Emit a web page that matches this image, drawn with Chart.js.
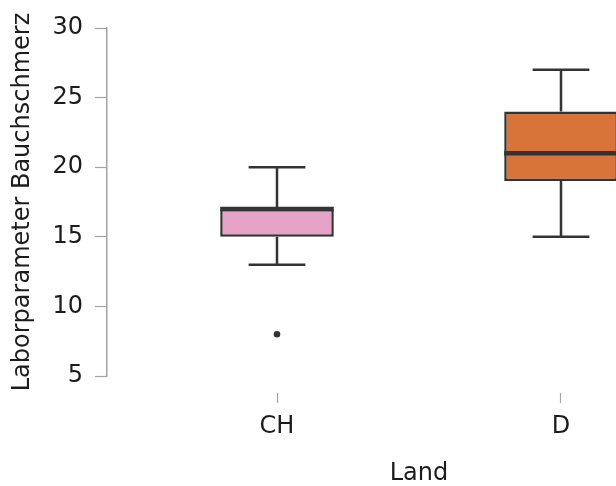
<!DOCTYPE html>
<html>
<head>
<meta charset="utf-8">
<script src="https://cdn.jsdelivr.net/npm/chart.js@4/dist/chart.umd.min.js"></script>
<style>
  html, body { margin: 0; padding: 0; background: #ffffff; overflow: hidden; }
  #wrap { width: 616px; height: 486px; overflow: hidden; position: relative; }
  #c { position: absolute; left: 0; top: 0; }
</style>
</head>
<body>
<div id="wrap"><canvas id="c" width="735" height="486"></canvas></div>
<script>
// ---- data ----
const categories   = ['CH', 'D'];
const lowerWhisker = [13, 15];
const q1           = [15, 19];
const median       = [17, 21];
const q3           = [17, 24];
const upperWhisker = [20, 27];
const outliers     = [[8], []];
const yTickValues  = [5, 10, 15, 20, 25, 30];
const xTitle = 'Land';
const yTitle = 'Laborparameter Bauchschmerz';

// ---- styles ----
const boxColors = ['#E7A3C7', '#D8733A'];
const lineColor = '#333333';
const axisColor = '#a3a3a3';
const textColor = '#1c1c1c';
const fontFamily = "'DejaVu Sans', 'Liberation Sans', sans-serif";
const fontSize = 24;

const catPos = categories.map((c, i) => i + 1);

const boxData = categories.map((c, i) => ({ x: catPos[i], y: [q1[i], q3[i]] }));
const outlierData = [];
categories.forEach((c, i) => outliers[i].forEach(v => outlierData.push({ x: catPos[i], y: v })));

const boxDecor = {
  id: 'boxDecor',
  beforeDatasetsDraw(chart) {
    const ctx = chart.ctx, y = chart.scales.y;
    const meta = chart.getDatasetMeta(0);
    ctx.save();
    ctx.strokeStyle = lineColor;
    ctx.lineWidth = 2.5;
    ctx.lineCap = 'butt';
    meta.data.forEach((bar, i) => {
      const cx = bar.x, half = bar.width / 4;
      const yLo = y.getPixelForValue(lowerWhisker[i]);
      const yQ1 = y.getPixelForValue(q1[i]);
      const yQ3 = y.getPixelForValue(q3[i]);
      const yHi = y.getPixelForValue(upperWhisker[i]);
      ctx.beginPath();
      ctx.moveTo(cx, yQ1); ctx.lineTo(cx, yLo);
      ctx.moveTo(cx, yQ3); ctx.lineTo(cx, yHi);
      ctx.moveTo(cx - half, yLo); ctx.lineTo(cx + half, yLo);
      ctx.moveTo(cx - half, yHi); ctx.lineTo(cx + half, yHi);
      ctx.stroke();
    });
    ctx.restore();
  },
  afterDatasetsDraw(chart) {
    const ctx = chart.ctx, y = chart.scales.y;
    const meta = chart.getDatasetMeta(0);
    ctx.save();
    ctx.strokeStyle = lineColor;
    ctx.lineWidth = 4.5;
    meta.data.forEach((bar, i) => {
      const cx = bar.x, half = bar.width / 2;
      const yMed = y.getPixelForValue(median[i]);
      ctx.beginPath();
      ctx.moveTo(cx - half, yMed); ctx.lineTo(cx + half, yMed);
      ctx.stroke();
    });
    ctx.restore();
  }
};

new Chart(document.getElementById('c'), {
  data: {
    datasets: [
      {
        type: 'bar',
        data: boxData,
        backgroundColor: boxColors,
        borderColor: lineColor,
        borderWidth: 2.5,
        borderSkipped: false,
        barPercentage: 0.4,
        categoryPercentage: 1.0,
        order: 2
      },
      {
        type: 'scatter',
        data: outlierData,
        pointRadius: 3.3,
        pointBackgroundColor: lineColor,
        pointBorderWidth: 0,
        order: 1
      }
    ]
  },
  options: {
    responsive: false,
    animation: false,
    events: [],
    layout: { padding: { top: 28, right: 0, bottom: 0, left: 0 } },
    plugins: { legend: { display: false }, tooltip: { enabled: false } },
    scales: {
      x: {
        type: 'linear',
        offset: false,
        min: 0.4014,
        max: 2.5986,
        afterBuildTicks(scale) { scale.ticks = catPos.map(v => ({ value: v })); },
        afterFit(scale) { scale.height = 110; scale.paddingLeft = 0; scale.paddingRight = 0; },
        ticks: {
          callback: (v) => categories[catPos.indexOf(v)],
          font: { family: fontFamily, size: fontSize },
          color: textColor,
          padding: 8.5,
          maxRotation: 0
        },
        grid: {
          offset: false,
          drawOnChartArea: false,
          drawTicks: true,
          tickLength: 28,
          tickColor: axisColor,
          tickWidth: 1.2,
          tickBorderDash: [10, 17],
          tickBorderDashOffset: 10
        },
        border: { display: false },
        title: {
          display: true,
          text: xTitle,
          font: { family: fontFamily, size: fontSize, lineHeight: 1.0 },
          color: textColor,
          padding: { top: 0, bottom: 0 }
        }
      },
      y: {
        type: 'linear',
        min: 5,
        max: 30,
        afterBuildTicks(scale) { scale.ticks = yTickValues.map(v => ({ value: v })); },
        afterFit(scale) { scale.width = 107; },
        ticks: {
          font: { family: fontFamily, size: fontSize },
          color: textColor,
          padding: 12
        },
        grid: {
          drawOnChartArea: false,
          drawTicks: true,
          tickLength: 12,
          tickColor: axisColor,
          tickWidth: 1.2
        },
        border: { display: true, color: axisColor, width: 1.5 },
        title: {
          display: true,
          text: yTitle,
          font: { family: fontFamily, size: fontSize },
          color: textColor,
          padding: { top: 8.5, bottom: 0 }
        }
      }
    }
  },
  plugins: [boxDecor]
});
</script>
</body>
</html>
